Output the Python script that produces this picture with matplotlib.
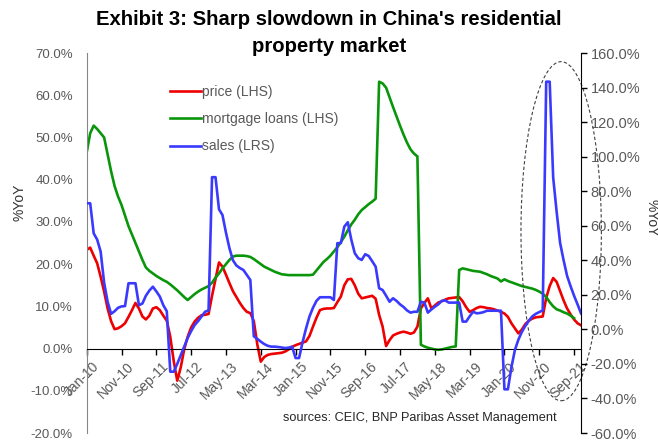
import numpy as np
import matplotlib
matplotlib.use("Agg")
import matplotlib.pyplot as plt
from matplotlib import font_manager as fm
from matplotlib.patches import Ellipse
from matplotlib.transforms import ScaledTranslation

plt.rcParams["font.family"] = ["Liberation Sans", "DejaVu Sans"]

# monthly data, Jan-10 .. Nov-21 (rows of 10 months, each row starts at a tick label)
tick_labels = ["Jan-10", "Nov-10", "Sep-11", "Jul-12", "May-13", "Mar-14", "Jan-15",
               "Nov-15", "Sep-16", "Jul-17", "May-18", "Mar-19", "Jan-20", "Nov-20", "Sep-21"]

price = [
    23.4, 23.9, 22.0, 20.2, 17.0, 13.5, 9.5, 6.5, 4.6, 4.8,
    5.3, 6.0, 7.5, 9.1, 10.8, 9.5, 7.6, 6.9, 7.8, 9.5,
    9.8, 9.1, 7.8, 6.6, 2.8, -3.0, -7.6, -4.5, -0.2, 2.8,
    5.0, 6.4, 7.3, 7.9, 8.0, 8.2, 12.5, 16.5, 20.4, 19.4,
    17.5, 15.5, 13.6, 12.2, 10.8, 9.6, 8.7, 8.4, 6.5, 1.0,
    -3.1, -2.0, -1.5, -1.3, -1.2, -1.1, -1.0, -0.7, -0.2, 0.4,
    0.8, 1.1, 1.4, 1.7, 3.0, 5.2, 7.3, 9.1, 9.4, 9.5,
    9.5, 9.6, 11.0, 12.3, 15.0, 16.4, 16.5, 15.0, 13.0, 11.9,
    12.1, 12.3, 12.5, 11.8, 8.0, 5.2, 0.6, 2.0, 3.1, 3.5,
    3.8, 4.0, 3.8, 3.5, 3.8, 5.2, 9.5, 10.8, 11.9, 9.5,
    10.2, 10.9, 11.2, 11.6, 11.9, 12.0, 12.1, 12.2, 11.2, 9.8,
    8.7, 9.1, 9.6, 9.9, 9.8, 9.6, 9.5, 9.3, 9.0, 8.7,
    8.3, 7.5, 6.0, 4.8, 3.6, 4.5, 5.8, 6.6, 7.1, 7.4,
    7.5, 7.6, 12.0, 14.8, 16.7, 15.8, 13.6, 11.4, 9.5, 8.1,
    6.9, 6.0, 5.5,
]

mortgage = [
    46.5, 51.0, 52.8, 52.0, 51.0, 50.0, 46.0, 42.0, 38.5, 36.0,
    34.0, 31.5, 29.0, 27.0, 25.0, 23.0, 21.0, 19.2, 18.4, 17.8,
    17.2, 16.7, 16.2, 15.8, 15.2, 14.5, 13.8, 13.0, 12.2, 11.5,
    12.2, 12.9, 13.5, 14.0, 14.4, 14.8, 15.6, 16.8, 17.8, 19.0,
    20.0, 21.0, 21.8, 22.0, 22.0, 22.0, 21.9, 21.7, 21.2, 20.6,
    20.0, 19.4, 19.0, 18.6, 18.2, 17.9, 17.6, 17.5, 17.4, 17.4,
    17.4, 17.4, 17.4, 17.4, 17.4, 17.5, 18.5, 19.5, 20.5, 21.2,
    22.0, 23.0, 24.0, 25.2, 26.5, 28.0, 29.4, 30.5, 31.8, 32.8,
    33.5, 34.2, 34.8, 35.5, 63.2, 62.8, 61.8, 59.5, 57.2, 55.0,
    52.8, 50.7, 48.8, 47.2, 46.2, 45.5, 0.9, 0.5, 0.2, 0.0,
    -0.2, -0.3, -0.2, 0.0, 0.2, 0.4, 0.5, 18.6, 19.0, 18.8,
    18.6, 18.4, 18.3, 18.2, 17.9, 17.6, 17.2, 16.9, 16.6, 15.9,
    16.4, 16.0, 15.7, 15.4, 15.1, 14.8, 14.6, 14.4, 14.2, 13.9,
    13.5, 13.0, 12.2, 11.0, 10.0, 9.3, 9.0, 8.6, 8.3, 7.8,
    7.2, np.nan, np.nan,
]

sales = [
    73.0, 73.0, 55.6, 52.0, 45.0, 27.0, 16.0, 9.0, 10.5, 12.5,
    13.3, 13.5, 26.7, 26.7, 26.7, 14.0, 15.0, 19.5, 22.5, 24.7,
    22.0, 19.0, 14.0, 10.5, -24.5, -24.5, -20.0, -15.0, -10.0, -5.0,
    -1.0, 2.5, 4.8, 7.5, 10.2, 11.0, 88.1, 88.1, 69.5, 66.2,
    56.0, 47.0, 40.0, 37.0, 35.5, 34.4, 31.5, 28.6, -4.0, -5.5,
    -7.1, -8.5, -9.5, -10.0, -10.0, -10.2, -10.5, -10.8, -10.6, -10.0,
    -16.6, -16.6, -7.5, 0.5, 7.5, 12.5, 16.5, 18.6, 18.6, 18.6,
    18.6, 17.0, 49.9, 49.9, 59.5, 62.0, 52.0, 44.1, 41.2, 40.2,
    43.5, 42.5, 39.5, 36.3, 23.8, 22.8, 19.5, 16.0, 18.0, 16.5,
    14.5, 13.0, 11.0, 9.7, 10.2, 10.2, 16.0, 15.5, 9.7, 11.5,
    13.1, 14.5, 16.5, 16.8, 15.5, 15.5, 15.5, 15.5, 4.5, 4.5,
    7.5, 10.2, 9.3, 9.5, 10.0, 10.8, 10.8, 10.8, 10.8, 10.8,
    -34.7, -34.7, -22.0, -12.0, -6.0, -1.5, 2.0, 5.0, 7.5, 9.0,
    10.0, 11.0, 143.4, 143.4, 88.0, 68.0, 50.0, 40.0, 31.0, 25.0,
    19.5, 14.5, 9.3,
]

months = np.arange(len(price))
GRAY = "#595959"


def have_font(name):
    try:
        fm.findfont(fm.FontProperties(family=name), fallback_to_default=False)
        return True
    except ValueError:
        return False


# the original title is set in a narrow bold face
if have_font("Liberation Sans Narrow"):
    title_family, title_size, title_ls = "Liberation Sans Narrow", 17.5, 1.25
else:
    title_family, title_size, title_ls = "Liberation Sans", 14.6, 1.5

fig = plt.figure(figsize=(6.58, 4.41), dpi=100)
ax = fig.add_axes([0.1318, 0.0181, 0.7512, 0.8617])
ax2 = ax.twinx()

l1, = ax.plot(months, price, color="#ee0000", lw=1.9, label="price (LHS)")
l2, = ax.plot(months, mortgage, color="#0a960a", lw=1.9, label="mortgage loans (LHS)")
l3, = ax2.plot(months, sales, color="#3a3aff", lw=1.9, label="sales (LRS)")

ax.set_xlim(0, len(price) - 1)
ax.set_ylim(-20, 70)
ax2.set_ylim(-60, 160)

for a in (ax, ax2):
    a.spines["top"].set_visible(False)
ax.spines["bottom"].set_position(("data", 0))
ax.spines["bottom"].set_color("black")
ax.spines["left"].set_color("#868686")
ax.spines["right"].set_visible(False)
ax2.spines["left"].set_visible(False)
ax2.spines["bottom"].set_visible(False)
ax2.spines["right"].set_color("black")

ax.tick_params(axis="x", direction="out", length=4, width=1, color="black", pad=4)
ax.tick_params(axis="y", length=0, labelsize=9.5, labelcolor=GRAY, pad=10)
ax2.tick_params(axis="y", direction="out", length=4, width=1, color="black",
                labelsize=10.5, labelcolor=GRAY, pad=3)

ax.set_yticks(np.arange(-20, 71, 10))
ax.set_yticklabels([f"{v:.1f}%" for v in np.arange(-20, 71, 10)])
ax2.set_yticks(np.arange(-60, 161, 20))
ax2.set_yticklabels([f"{v:.1f}%" for v in np.arange(-60, 161, 20)])

ax.set_xticks(months[::10])
ax.set_xticklabels(tick_labels, fontsize=10, color=GRAY)
shift = ScaledTranslation(3.6 / 72, 0, fig.dpi_scale_trans)
for lab in ax.get_xticklabels():
    lab.set_rotation(45)
    lab.set_ha("right")
    lab.set_va("top")
    lab.set_rotation_mode("anchor")
    lab.set_transform(lab.get_transform() + shift)

fig.text(20 / 658, 1 - 202 / 441, "%YoY", rotation=90, ha="center", va="center",
         fontsize=10, color="#333333")
fig.text(651 / 658, 1 - 218 / 441, "%YoY", rotation=-90, ha="center", va="center",
         fontsize=10, color="#333333")

ax2.legend(handles=[l1, l2, l3], loc="upper left", bbox_to_anchor=(170 / 658, 1 - 85 / 441),
           bbox_transform=fig.transFigure, frameon=False, fontsize=10, labelcolor=GRAY,
           handlelength=2.2, handletextpad=0.1, borderpad=0, borderaxespad=0,
           labelspacing=0.95)

ell = Ellipse((136.3, 27.8), 23.1, 80.3, fill=False, ls=(0, (3, 2)), lw=0.8,
              edgecolor="#404040", clip_on=False, zorder=5)
ax.add_patch(ell)

fig.text(0.5, 1 - 10 / 441, "Exhibit 3: Sharp slowdown in China's residential\nproperty market",
         ha="center", va="top", fontsize=title_size, fontweight="bold", linespacing=title_ls,
         family=[title_family, "DejaVu Sans"])
fig.text(283 / 658, 1 - 418 / 441, "sources: CEIC, BNP Paribas Asset Management",
         ha="left", va="center", fontsize=9.2, color="#262626")

fig.savefig("out.png", dpi=100)
